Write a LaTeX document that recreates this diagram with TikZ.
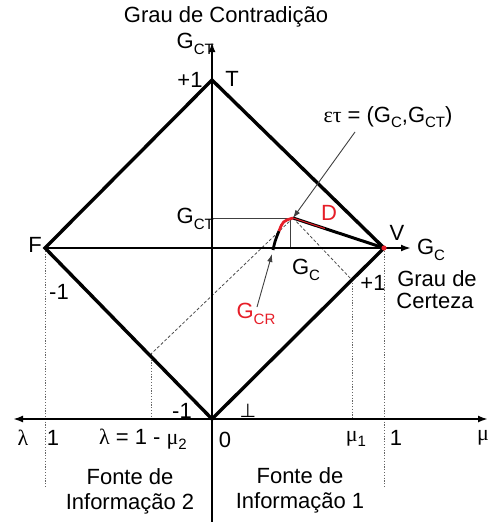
\documentclass[tikz,border=0pt]{standalone}
\usepackage{fontspec}
\setmainfont{Liberation Sans}
\newfontfamily\grk{Liberation Serif}
\newfontfamily\djv{DejaVu Sans}
\usetikzlibrary{arrows.meta,calc}
\newcommand{\lowsub}[1]{\raisebox{-0.45ex}{\fontsize{15}{15}\selectfont #1}}
\begin{document}
\begin{tikzpicture}[x=1pt,y=-1pt,
  lbl/.style={inner sep=0pt, font=\fontsize{22}{25}\selectfont, align=center},
  redlbl/.style={lbl, text=redc},
  axis/.style={line width=2pt, -{Latex[length=10pt,width=7pt]}},
  diam/.style={line width=3.4pt, line join=miter},
  thinln/.style={line width=0.9pt, draw=black!75},
  thinarr/.style={thinln, -{Latex[length=8pt,width=5.5pt]}},
  dashln/.style={line width=0.8pt, draw=black!70, dash pattern=on 3pt off 2pt},
  dotln/.style={line width=0.9pt, draw=black!60, dash pattern=on 1.2pt off 1.6pt},
]
\definecolor{redc}{RGB}{230,30,40}
\useasboundingbox (0,0) rectangle (493,522);
% key points
\coordinate (T) at (212,80);
\coordinate (F) at (45,248);
\coordinate (V) at (384,248);
\coordinate (B) at (212,419);
\coordinate (E) at (293,218);
\coordinate (P1) at (352,280);
\coordinate (P2) at (151,354);
% axes
\coordinate (Ybot) at (212,522);
\coordinate (Ytop) at (212,42);
\coordinate (Xl) at (13,419);
\coordinate (Xr) at (488,419);
\coordinate (GCtip) at (411,248);
% dotted verticals
\coordinate (P1b) at (352,419);
\coordinate (P2b) at (151,419);
\coordinate (Fb) at (45,488);
\coordinate (Vb) at (384,488);
\draw[dotln] (P1) -- (P1b);
\draw[dotln] (P2) -- (P2b);
\draw[dotln] (F) -- (Fb);
\draw[dotln] (V) -- (Vb);
% dashed
\draw[dashln] (E) -- (P1);
\draw[dashln] (E) -- (P2);
% thin projections
\coordinate (Hl) at (213,218);
\coordinate (Vt) at (290,218);
\coordinate (Vbt) at (290,248);
\draw[thinln] (Hl) -- (E);
\draw[thinln] (Vt) -- (Vbt);
% axes
\draw[axis] (Ybot) -- (Ytop);
\draw[line width=2pt, {Latex[length=10pt,width=7pt]}-{Latex[length=10pt,width=7pt]}] (Xl) -- (Xr);
\draw[axis] (F) -- (GCtip);
% diamond
\draw[diam] (T) -- (V) -- (B) -- (F) -- cycle;
% D line
\draw[line width=3pt] (E) -- (V);
\draw[redc, line width=1pt] (E) -- ($(E)!0.35!(V)$);
% G_CR curve
\coordinate (C0) at (273,250);
\coordinate (C1) at (279,231);
\draw[line width=2.8pt] (C0) .. controls (275,241) .. (C1);
\draw[redc, line width=2.8pt] (C1) .. controls (283,221) .. (E);
\fill[redc] (V) circle (2.6pt);
% arrows
\coordinate (Ea) at (355,132);
\draw[thinarr] (Ea) -- (E);
\coordinate (Ga) at (257,307);
\coordinate (Gb) at (272,254);
\draw[thinarr] (Ga) -- (Gb);
% labels
\node[lbl] (tGC) at (226,17) {Grau de Contradição};
\node[lbl, anchor=east] (tGCT) at (214,44) {G\lowsub{CT}};
\node[lbl] (tp1) at (190,80) {+1};
\node[lbl] (tT) at (232,79) {T};
\node[lbl] (tET) at (388,117) {{\grk ετ} = (G\lowsub{C},G\lowsub{CT})};
\node[lbl, anchor=east] (tGCT2) at (214,219) {G\lowsub{CT}};
\node[redlbl] (tD) at (329,213) {D};
\node[lbl] (tV) at (397,233) {V};
\node[lbl] (tGCx) at (431,250) {G\lowsub{C}};
\node[lbl] (tGdC) at (437,279) {Grau de};
\node[lbl] (tCz) at (435,301) {Certeza};
\node[lbl] (tp1b) at (373,283) {+1};
\node[lbl] (tGC2) at (306,270) {G\lowsub{C}};
\node[redlbl] (tGCR) at (256,314) {G\lowsub{CR}};
\node[lbl] (tF) at (35,245) {F};
\node[lbl] (tm1) at (59,292) {-1};
\node[lbl] (tm1b) at (182,411) {-1};
\node[inner sep=0pt, anchor=base, font=\djv\fontsize{19}{19}\selectfont] (tbot) at (248,417) {⊥};
\node[lbl] (tlam) at (23,438) {\grk λ};
\node[lbl] (t1l) at (53,438) {1};
\node[lbl] (tlam2) at (143,439) {{\grk λ} = 1 - {\grk μ}\lowsub{2}};
\node[lbl] (t0) at (225,440) {0};
\node[lbl] (tmu1) at (356,439) {{\grk μ}\lowsub{1}};
\node[lbl] (t1r) at (396,438) {1};
\node[lbl] (tmu) at (483,438) {\grk μ};
\node[lbl] (tF2) at (130,491) {Fonte de\\Informação 2};
\node[lbl] (tF1) at (300,490) {Fonte de\\Informação 1};
\end{tikzpicture}
\end{document}
